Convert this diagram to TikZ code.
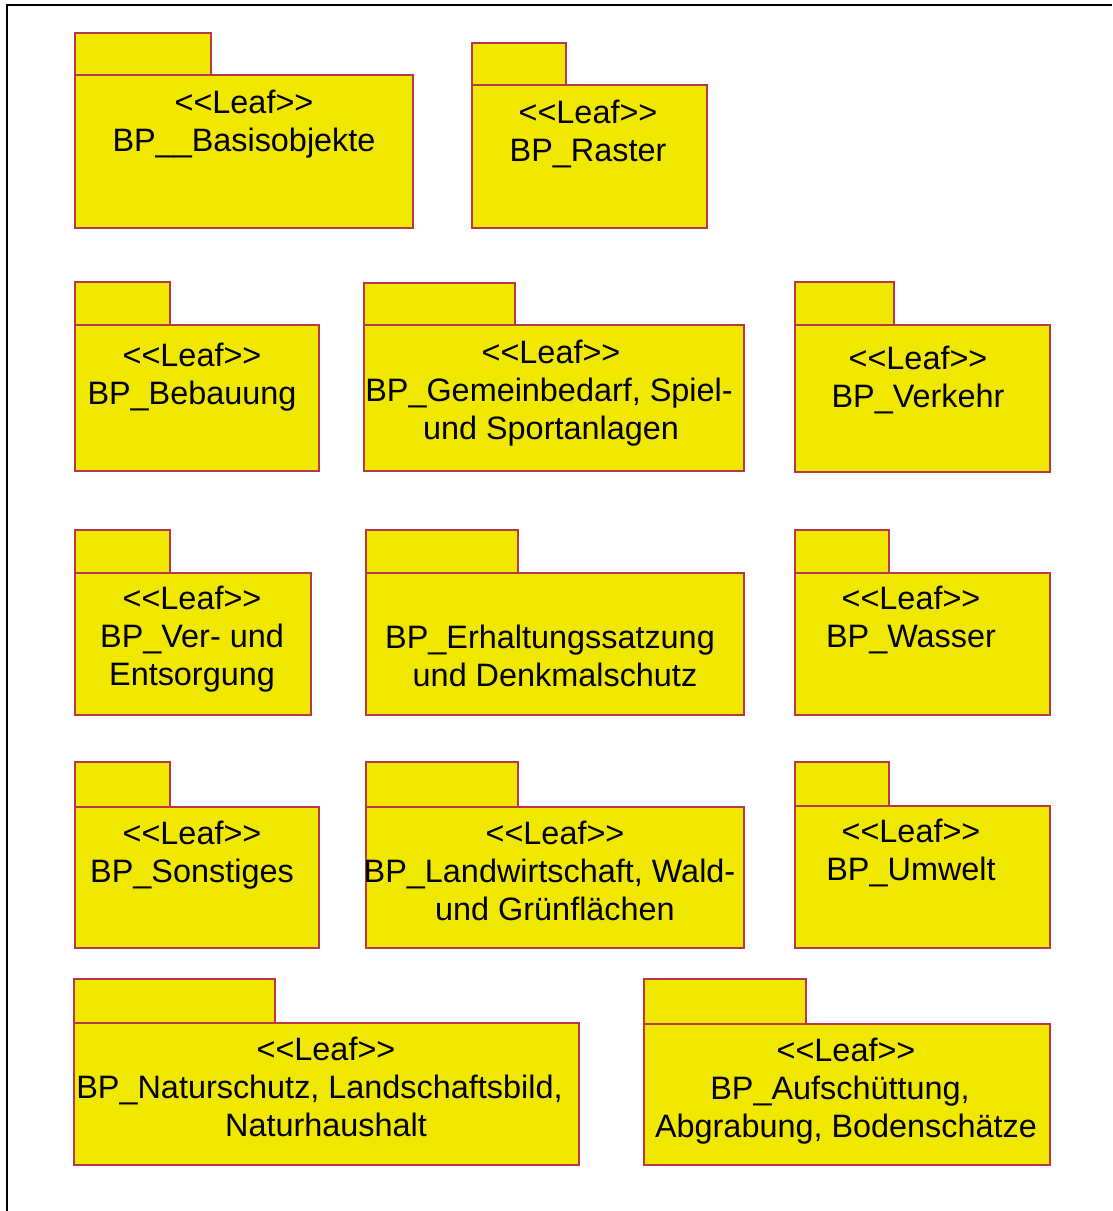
\documentclass[tikz,border=0pt]{standalone}
\usepackage{fontspec}
\setmainfont{Liberation Sans}
\begin{document}
\begin{tikzpicture}[x=1pt,y=-1pt,
  pkgfill/.style={fill=pkgyellow,draw=pkgred,line width=1.1pt},
  pkglabel/.style={align=center,inner sep=0pt,font=\fontsize{32.4}{38}\selectfont},
  frameline/.style={line width=2.2pt,black}]
\definecolor{pkgyellow}{HTML}{F0E800}
\definecolor{pkgred}{HTML}{B83848}
\newcommand\leaf{{<}{<}Leaf{>}{>}}
% trailing blank kept at the end of a wrapped line
\newcommand\trail[1]{\rule{#1}{0pt}}
\useasboundingbox (0,0) rectangle (1112,1211);
% outer frame (top and left edges)
\draw[frameline] (1112,5) -- (7,5) -- (7,1211);
% package: tab rectangle, then body rectangle
\newcommand\umlpackage[6]{%
  \filldraw[pkgfill] (#1,#2) rectangle (#3,#4);
  \filldraw[pkgfill] (#1,#4) rectangle (#5,#6);}
% row 1
\umlpackage{75}{33}{211}{75}{413}{228}
\node[pkglabel] (basis) at (244,124) {\leaf\\BP\_\_Basisobjekte};
\umlpackage{472}{43}{566}{85}{707}{228}
\node[pkglabel] (raster) at (588,134) {\leaf\\BP\_Raster};
% row 2
\umlpackage{75}{282}{170}{325}{319}{471}
\node[pkglabel] (bebauung) at (192,377) {\leaf\\BP\_Bebauung};
\umlpackage{364}{283}{515}{325}{744}{471}
\node[pkglabel] (gemein) at (551,393) {\leaf\\BP\_Gemeinbedarf, Spiel-\trail{4pt}\\und Sportanlagen};
\umlpackage{795}{282}{894}{325}{1050}{472}
\node[pkglabel] (verkehr) at (918,380) {\leaf\\BP\_Verkehr};
% row 3
\umlpackage{75}{530}{170}{573}{311}{715}
\node[pkglabel] (versorgung) at (192,639) {\leaf\\BP\_Ver- und\\Entsorgung};
\umlpackage{366}{530}{518}{573}{744}{715}
\node[pkglabel] (erhaltung) at (555,656) {BP\_Erhaltungssatzung\trail{10pt}\\und Denkmalschutz};
\umlpackage{795}{530}{889}{573}{1050}{715}
\node[pkglabel] (wasser) at (911,620) {\leaf\\BP\_Wasser};
% row 4
\umlpackage{75}{762}{170}{807}{319}{948}
\node[pkglabel] (sonstiges) at (192,855) {\leaf\\BP\_Sonstiges};
\umlpackage{366}{762}{518}{807}{744}{948}
\node[pkglabel] (landwirt) at (555,871) {\leaf\\BP\_Landwirtschaft, Wald-\trail{11pt}\\und Grünflächen};
\umlpackage{795}{762}{889}{806}{1050}{948}
\node[pkglabel] (umwelt) at (911,853) {\leaf\\BP\_Umwelt};
% row 5
\umlpackage{74}{979}{275}{1023}{579}{1165}
\node[pkglabel] (natur) at (326,1087) {\leaf\\BP\_Naturschutz, Landschaftsbild,\trail{13pt}\\Naturhaushalt};
\umlpackage{644}{979}{806}{1024}{1050}{1165}
\node[pkglabel] (aufschuett) at (846,1091) {\leaf\\BP\_Aufschüttung,\trail{12pt}\\Abgrabung, Bodenschätze};
\end{tikzpicture}
\end{document}
